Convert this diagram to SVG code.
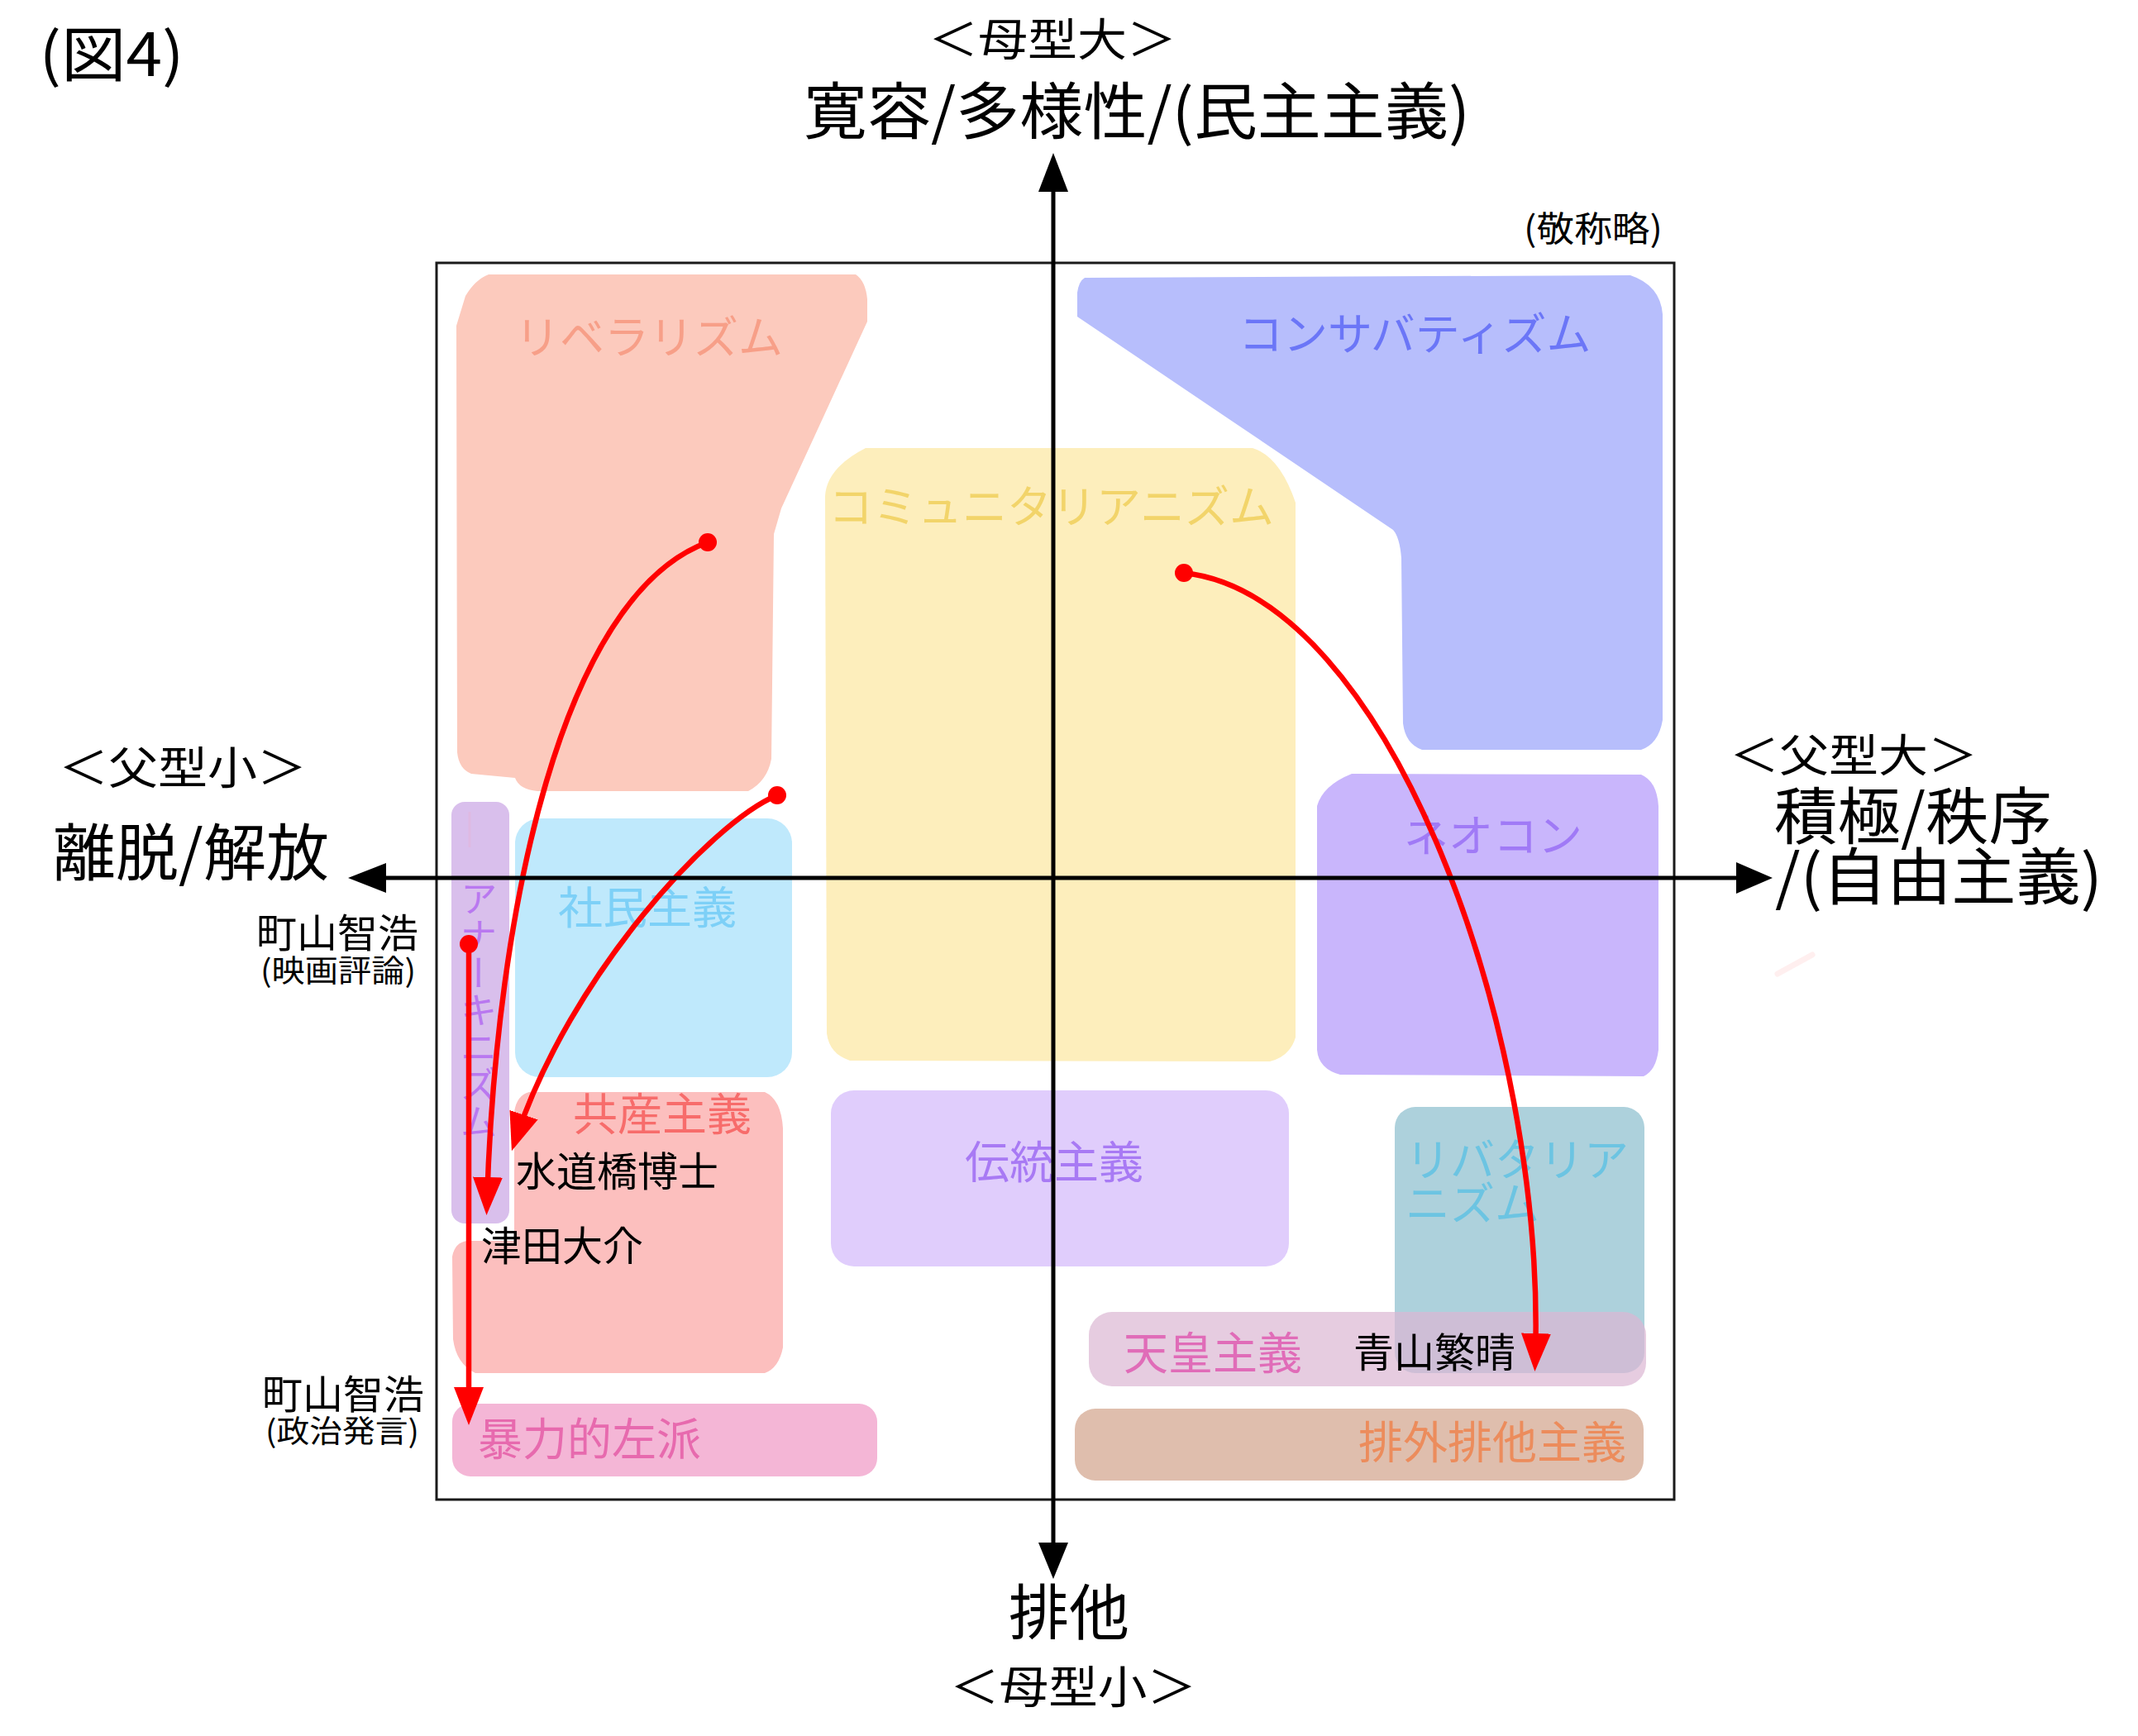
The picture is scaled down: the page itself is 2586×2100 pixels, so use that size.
<svg xmlns="http://www.w3.org/2000/svg" width="2586" height="2100" viewBox="0 0 2586 2100">
<style>
text{font-family:"Noto Sans CJK JP","Noto Sans CJK SC",sans-serif;}
.ax{fill:#000;}
.lbl{font-size:54px;}
.nm{font-size:49px;fill:#000;}
.red{fill:none;stroke:#FF0000;stroke-width:6.5;}
.dot{fill:#FF0000;}
.axis{stroke:#000;stroke-width:5;fill:none;}
</style>
<defs>
<marker id="ah" markerUnits="userSpaceOnUse" markerWidth="46" markerHeight="36" viewBox="0 0 46 36" refX="30" refY="18" orient="auto">
<path d="M0,0 L46,18 L0,36 Z" fill="#FF0000"/>
</marker>
</defs>
<rect width="2586" height="2100" fill="#FFFFFF"/>
<rect id="frame" x="528" y="318" width="1497" height="1496" fill="none" stroke="#1a1a1a" stroke-width="3"/>

<g id="liberalism">
<path d="M591,332 L1035,332 Q1047,340 1049,362 L1049,389 L945,615 L936,646 L933,918 Q928,945 905,957 L650,957 Q628,955 623,941 L570,936 Q555,930 553,910 L552,394 L563,358 Q575,338 591,332 Z" fill="#FCCABD"/>
<text class="lbl" x="623" y="428" fill="#F79F88">リベラリズム</text>
</g>
<g id="conservatism">
<path d="M1312,336 L1972,333 Q2008,345 2011,380 L2011,871 Q2006,900 1985,907 L1720,907 Q1700,900 1697,875 L1695,675 Q1693,650 1685,641 L1303,383 L1303,354 Q1305,340 1312,336 Z" fill="#B7BEFC"/>
<text class="lbl" x="1498" y="424" fill="#6B76F7">コンサバティズム</text>
</g>
<g id="communitarianism">
<path d="M1047,542 L1515,542 Q1548,552 1567,608 L1567,1255 Q1560,1278 1536,1284 L1028,1283 Q1003,1275 1000,1250 L998,600 Q1000,566 1047,542 Z" fill="#FDEEBC"/>
<text class="lbl" x="1002" y="633" fill="#F2D46A">コミュニタリアニズム</text>
</g>
<g id="neocon">
<path d="M1635,936 L1985,937 Q2004,945 2006,975 L2006,1270 Q2003,1295 1988,1302 L1621,1300 Q1595,1293 1593,1270 L1593,975 Q1600,950 1635,936 Z" fill="#C9B6FC"/>
<text class="lbl" x="1698" y="1031" fill="#A07AF6">ネオコン</text>
</g>
<g id="anarchism">
<rect x="546" y="970" width="70" height="510" rx="16" fill="#D9BFEC"/>
<line x1="568" y1="982" x2="568" y2="1025" stroke="#E6B4DA" stroke-width="3" opacity="0.5"/>
<text x="579" y="1064" font-size="45" fill="#B978F0" writing-mode="vertical-rl">アナーキニズム</text>
</g>
<g id="socialdemocracy">
<rect x="623" y="990" width="335" height="313" rx="30" fill="#BFE9FC"/>
<text class="lbl" x="675" y="1118" fill="#7DD0F7">社民主義</text>
</g>
<g id="communism">
<path d="M640,1321 L925,1321 Q945,1330 947,1365 L947,1630 Q942,1655 925,1661 L575,1661 Q552,1650 548,1620 L547,1520 Q550,1503 565,1501 L622,1501 L622,1345 Q625,1325 640,1321 Z" fill="#FCBFBE"/>
<text class="lbl" x="693" y="1368" fill="#F76C6B">共産主義</text>
<text class="nm" x="624" y="1435">水道橋博士</text>
<text class="nm" x="582" y="1525">津田大介</text>
</g>
<g id="tradition">
<rect x="1005" y="1319" width="554" height="213" rx="28" fill="#E0CDFC"/>
<text class="lbl" x="1167" y="1426" fill="#A87AF4">伝統主義</text>
</g>
<g id="libertarianism">
<rect x="1687" y="1339" width="302" height="322" rx="25" fill="#ADD1DC"/>
<text class="lbl" x="1700" y="1423" fill="#6CC4E2">リバタリア</text>
<text class="lbl" x="1700" y="1476" fill="#6CC4E2">ニズム</text>
</g>
<g id="emperorism">
<rect x="1317" y="1587" width="674" height="90" rx="28" fill="#DBB6D3" opacity="0.7"/>
<text class="lbl" x="1359" y="1657" fill="#E06CB8">天皇主義</text>
<text class="nm" x="1637" y="1654">青山繁晴</text>
</g>
<g id="exclusionism">
<rect x="1300" y="1704" width="688" height="87" rx="25" fill="#DFBEAD"/>
<text class="lbl" x="1643" y="1765" fill="#EC8C5C">排外排他主義</text>
</g>
<g id="violentleft">
<rect x="547" y="1698" width="514" height="88" rx="22" fill="#F4B6D6"/>
<text class="lbl" x="578" y="1761" fill="#E76AAE">暴力的左派</text>
</g>

<g id="connectors">
<path class="red" d="M856,656 C680,720 600,1100 589,1454" marker-end="url(#ah)"/>
<path class="red" d="M940,962 C860,995 690,1180 624,1377" marker-end="url(#ah)"/>
<path class="red" d="M567,1142 L567,1708" marker-end="url(#ah)"/>
<path class="red" d="M1432,693 C1680,720 1870,1250 1857,1643" marker-end="url(#ah)"/>
<circle class="dot" cx="856" cy="656" r="11"/>
<circle class="dot" cx="940" cy="962" r="11"/>
<circle class="dot" cx="567" cy="1142" r="11"/>
<circle class="dot" cx="1432" cy="693" r="11"/>
</g>

<g id="axes">
<line class="axis" x1="1274" y1="228" x2="1274" y2="1868"/>
<polygon class="ax" points="1274,185 1256,232 1292,232"/>
<polygon class="ax" points="1274,1910 1256,1866 1292,1866"/>
<line class="axis" x1="464" y1="1062" x2="2102" y2="1062"/>
<polygon class="ax" points="421,1062 467,1044 467,1080"/>
<polygon class="ax" points="2144,1062 2100,1043 2100,1081"/>
</g>

<line x1="2150" y1="1178" x2="2192" y2="1155" stroke="#FFE0E0" stroke-width="7" stroke-linecap="round" opacity="0.5"/>

<g id="labels">
<text x="135" y="92" font-size="72" text-anchor="middle" textLength="175" lengthAdjust="spacingAndGlyphs">(図4)</text>
<text x="1273" y="68" font-size="54" text-anchor="middle" textLength="300" lengthAdjust="spacingAndGlyphs">＜母型大＞</text>
<text x="1375" y="162" font-size="75" text-anchor="middle" textLength="806" lengthAdjust="spacingAndGlyphs">寛容/多様性/(民主主義)</text>
<text x="1927" y="292" font-size="42" text-anchor="middle" textLength="168" lengthAdjust="spacingAndGlyphs">(敬称略)</text>
<text x="221" y="949" font-size="54" text-anchor="middle" textLength="300" lengthAdjust="spacingAndGlyphs">＜父型小＞</text>
<text x="231" y="1059" font-size="75" text-anchor="middle" textLength="334" lengthAdjust="spacingAndGlyphs">離脱/解放</text>
<text x="408" y="1146" font-size="48" text-anchor="middle" textLength="196" lengthAdjust="spacingAndGlyphs">町山智浩</text>
<text x="409" y="1188" font-size="37" text-anchor="middle" textLength="188" lengthAdjust="spacingAndGlyphs">(映画評論)</text>
<text x="2242" y="934" font-size="54" text-anchor="middle" textLength="300" lengthAdjust="spacingAndGlyphs">＜父型大＞</text>
<text x="2314" y="1015" font-size="75" text-anchor="middle" textLength="336" lengthAdjust="spacingAndGlyphs">積極/秩序</text>
<text x="2345" y="1088" font-size="75" text-anchor="middle" textLength="396" lengthAdjust="spacingAndGlyphs">/(自由主義)</text>
<text x="1293" y="1977" font-size="73" text-anchor="middle" textLength="146" lengthAdjust="spacingAndGlyphs">排他</text>
<text x="1298" y="2061" font-size="54" text-anchor="middle" textLength="298" lengthAdjust="spacingAndGlyphs">＜母型小＞</text>
<text x="415" y="1704" font-size="48" text-anchor="middle" textLength="196" lengthAdjust="spacingAndGlyphs">町山智浩</text>
<text x="414" y="1745" font-size="37" text-anchor="middle" textLength="186" lengthAdjust="spacingAndGlyphs">(政治発言)</text>
</g>
</svg>
